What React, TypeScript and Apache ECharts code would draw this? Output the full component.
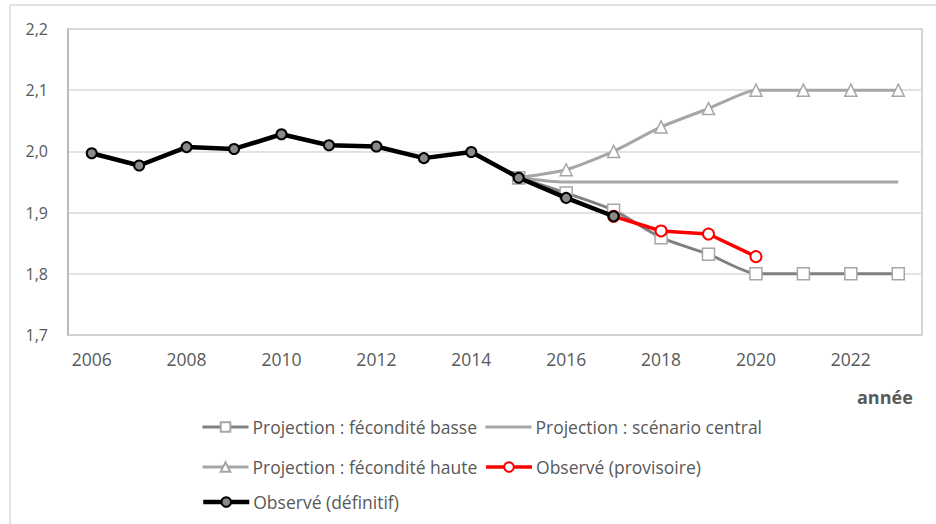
import React, { useEffect, useRef } from "react";
import * as echarts from "echarts";

const years = ["2006","2007","2008","2009","2010","2011","2012","2013","2014","2015","2016","2017","2018","2019","2020","2021","2022","2023"];
const basse = [null,null,null,null,null,null,null,null,null,1.957,1.932,1.904,1.859,1.832,1.80,1.80,1.80,1.80];
const central = [null,null,null,null,null,null,null,null,null,1.957,1.95,1.95,1.95,1.95,1.95,1.95,1.95,1.95];
const haute = [null,null,null,null,null,null,null,null,null,1.957,1.97,2.0,2.04,2.07,2.10,2.10,2.10,2.10];
const provisoire = [null,null,null,null,null,null,null,null,null,null,null,1.894,1.870,1.865,1.828,null,null,null];
const definitif = [1.997,1.977,2.007,2.004,2.028,2.010,2.008,1.989,1.999,1.957,1.924,1.894,null,null,null,null,null,null];

const names = {
  basse: "Projection : fécondité basse",
  central: "Projection : scénario central",
  haute: "Projection : fécondité haute",
  prov: "Observé (provisoire)",
  def: "Observé (définitif)",
};

const FONT = "'Open Sans', sans-serif";
const TXT = "#595959";

export default function App() {
  const ref = useRef<HTMLDivElement>(null);
  useEffect(() => {
    if (!ref.current) return;
    const chart = echarts.init(ref.current, null, { renderer: "svg" });
    const legendBase = {
      orient: "horizontal",
      itemWidth: 46,
      itemHeight: 12,
      itemGap: 7,
      lineStyle: { width: "inherit" },
      textStyle: { color: TXT, fontSize: 17.5, fontFamily: FONT, padding: [0, 0, 0, -1] },
    };
    chart.setOption({
      animation: false,
      backgroundColor: "#ffffff",
      grid: { left: 68, right: 14, top: 29, bottom: 189, show: true, borderColor: "#c8c8c8", borderWidth: 1.5 },
      xAxis: {
        type: "category",
        data: years,
        boundaryGap: true,
        axisLine: { show: true, lineStyle: { color: "#d0d0d0", width: 1.5 } },
        axisTick: { show: false },
        axisLabel: { interval: 1, color: TXT, fontSize: 17.5, fontFamily: FONT, margin: 15 },
        splitLine: { show: false },
      },
      yAxis: {
        type: "value",
        min: 1.7,
        max: 2.2,
        interval: 0.1,
        axisLine: { show: true, lineStyle: { color: "#b0b0b0", width: 1.5 } },
        axisTick: { show: false },
        axisLabel: {
          color: TXT, fontSize: 16, fontFamily: FONT, margin: 20,
          formatter: (v: number) => v.toFixed(1).replace(".", ","),
        },
        splitLine: { show: true, lineStyle: { color: "#d9d9d9", width: 1.5 } },
      },
      legend: [
        { ...legendBase, left: 196, top: 413, data: [names.basse, { name: names.central, itemStyle: { opacity: 0 } }] },
        { ...legendBase, left: 196, top: 453, data: [names.haute, names.prov] },
        { ...legendBase, left: 196, top: 488, data: [names.def] },
      ],
      graphic: [
        { type: "line", shape: { x1: 10, y1: 5, x2: 936, y2: 5 }, style: { stroke: "#d9d9d9", lineWidth: 1.5 } },
        { type: "line", shape: { x1: 10, y1: 5, x2: 10, y2: 524 }, style: { stroke: "#d9d9d9", lineWidth: 1.5 } },
        { type: "text", left: 857, top: 388, style: { text: "année", fill: TXT, font: `bold 18px ${FONT}` } },
      ],
      series: [
        {
          name: names.central, type: "line", data: central, smooth: 0.3, symbol: "none",
          lineStyle: { color: "#a6a6a6", width: 3 }, itemStyle: { color: "#a6a6a6" }, z: 2,
        },
        {
          name: names.haute, type: "line", data: haute, smooth: 0.2, symbol: "triangle", symbolSize: 12,
          showAllSymbol: true,
          lineStyle: { color: "#a6a6a6", width: 3 },
          itemStyle: { color: "#ffffff", borderColor: "#a6a6a6", borderWidth: 1.5 }, z: 3,
        },
        {
          name: names.basse, type: "line", data: basse, smooth: 0.2, symbol: "rect", symbolSize: 12,
          lineStyle: { color: "#808080", width: 3 },
          itemStyle: { color: "#ffffff", borderColor: "#a6a6a6", borderWidth: 1.5 }, z: 4,
        },
        {
          name: names.prov, type: "line", data: provisoire, symbol: "circle", symbolSize: 11,
          lineStyle: { color: "#ff0000", width: 3.5 },
          itemStyle: { color: "#ffffff", borderColor: "#ff0000", borderWidth: 2 }, z: 5,
        },
        {
          name: names.def, type: "line", data: definitif, symbol: "circle", symbolSize: 10,
          lineStyle: { color: "#000000", width: 4.5 },
          itemStyle: { color: "#8a8a8a", borderColor: "#000000", borderWidth: 2 }, z: 6,
        },
      ],
    });
    return () => chart.dispose();
  }, []);
  return <div ref={ref} style={{ width: 936, height: 524, position: "absolute", left: 0, top: 0 }} />;
}
